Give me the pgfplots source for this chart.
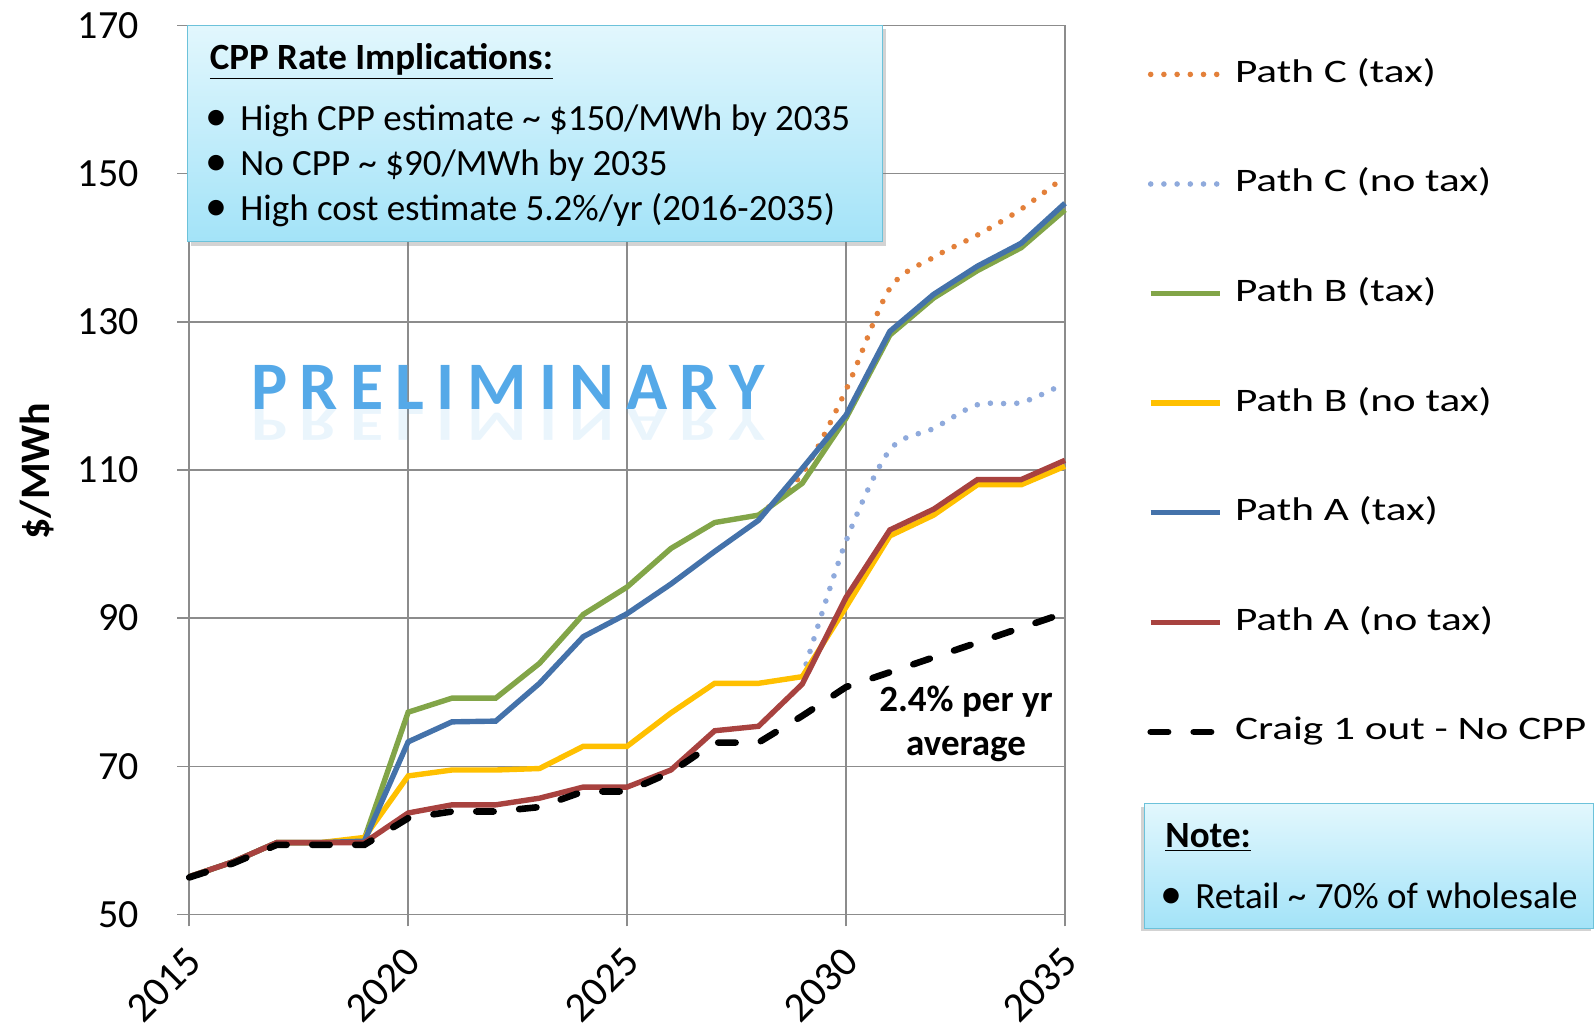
\documentclass[border=0pt]{standalone}
\usepackage{fontspec}
\setmainfont{Carlito}
\newfontfamily\legfont[FakeStretch=1.32]{Carlito}
\usepackage{pgfplots}
\pgfplotsset{compat=1.18}
\usetikzlibrary{shadows}

\definecolor{gridgray}{HTML}{8C8C8C}
\definecolor{cOrange}{HTML}{E3803A}
\definecolor{cLight}{HTML}{8FAADC}
\definecolor{cGreen}{HTML}{82A548}
\definecolor{cYellow}{HTML}{FFC000}
\definecolor{cBlue}{HTML}{4472AA}
\definecolor{cRed}{HTML}{A8423F}
\definecolor{boxtop}{HTML}{E2F7FD}
\definecolor{boxbot}{HTML}{A3E3F8}
\definecolor{boxedge}{HTML}{6CC2DA}
\definecolor{preblue}{HTML}{55A9E8}

\begin{document}
\begin{tikzpicture}
\path[use as bounding box] (-94.6pt,-58.25pt) rectangle (702.9pt,457.25pt);
\begin{axis}[
    scale only axis,
    width=437.9pt, height=444.55pt,
    xmin=2015, xmax=2035, ymin=50, ymax=170,
    xtick={2015,2020,2025,2030,2035},
    ytick={50,70,90,110,130,150,170},
    grid=major,
    major grid style={draw=gridgray, line width=0.75pt},
    axis line style={draw=gridgray, line width=0.75pt},
    tick style={draw=gridgray, line width=0.75pt},
    tick align=outside, major tick length=6pt,
    xtick pos=left, ytick pos=left,
    /pgf/number format/assume math mode=true,
    /pgf/number format/1000 sep={},
    ticklabel style={font=\fontsize{20}{24}\selectfont, inner sep=0pt},
    yticklabel style={anchor=east, xshift=-19pt},
    xticklabel style={font=\fontsize{21}{25}\selectfont, xshift=-2.3pt, yshift=-9pt, rotate=45, anchor=north east},
    ylabel={\$/MWh},
    every axis y label/.style={at={(axis description cs:-0.1742,0.4988)}, rotate=90, anchor=center,
        font=\bfseries\fontsize{21}{24}\selectfont},
    clip=false,
    legend cell align=left,
    legend style={at={(rel axis cs:1,1)}, anchor=north west, xshift=41pt, yshift=-16.3pt,
        draw=none, fill=none, inner sep=0pt, row sep=38.8pt,
        font=\legfont\fontsize{16.4}{19}\selectfont,
        nodes={inner sep=0pt, text height=12pt, text depth=4pt},
        /tikz/every odd column/.append style={column sep=6pt}},
    legend image code/.code={\draw[#1] (0pt,0pt) -- (34.5pt,0pt);},
]
% Path C (tax)
\addplot[cOrange, line width=2.8pt, line cap=round, dash pattern=on 0pt off 6.6pt, smooth] coordinates {
(2028,103.9) (2029,109.5) (2030,120.8) (2031,134.5) (2032,138.7) (2033,141.7) (2034,145.2) (2035,149.6)};
% Path C (no tax)
\addplot[cLight, line width=2.8pt, line cap=round, dash pattern=on 0pt off 6.6pt, smooth] coordinates {
(2029,82.1) (2030,100.4) (2031,112.7) (2032,115.6) (2033,118.8) (2034,119.1) (2035,121.7)};
% Path B (tax)
\addplot[cGreen, line width=2.7pt] coordinates {
(2015,55.1) (2016,57.1) (2017,59.7) (2018,59.7) (2019,60.2) (2020,77.3) (2021,79.2) (2022,79.2)
(2023,83.9) (2024,90.5) (2025,94.2) (2026,99.4) (2027,102.9) (2028,103.9) (2029,108.2) (2030,117.0)
(2031,128.2) (2032,133.2) (2033,136.9) (2034,140.0) (2035,145.1)};
% Path B (no tax)
\addplot[cYellow, line width=2.7pt] coordinates {
(2015,55.1) (2016,57.1) (2017,59.7) (2018,59.7) (2019,60.4) (2020,68.7) (2021,69.5) (2022,69.5)
(2023,69.7) (2024,72.7) (2025,72.7) (2026,77.2) (2027,81.2) (2028,81.2) (2029,82.1) (2030,91.5)
(2031,101.1) (2032,103.9) (2033,108.0) (2034,108.0) (2035,110.5)};
% Path A (tax)
\addplot[cBlue, line width=2.7pt] coordinates {
(2015,55.1) (2016,57.1) (2017,59.7) (2018,59.7) (2019,59.9) (2020,73.3) (2021,76.0) (2022,76.1)
(2023,81.2) (2024,87.5) (2025,90.6) (2026,94.6) (2027,99.0) (2028,103.2) (2029,110.2) (2030,117.4)
(2031,128.7) (2032,133.7) (2033,137.5) (2034,140.6) (2035,146.0)};
% Path A (no tax)
\addplot[cRed, line width=2.7pt] coordinates {
(2015,55.1) (2016,57.1) (2017,59.7) (2018,59.7) (2019,59.7) (2020,63.7) (2021,64.8) (2022,64.8)
(2023,65.7) (2024,67.2) (2025,67.2) (2026,69.5) (2027,74.8) (2028,75.4) (2029,81.1) (2030,92.8)
(2031,101.9) (2032,104.7) (2033,108.7) (2034,108.7) (2035,111.3)};
% Craig 1 out - No CPP
\addplot[black, line width=3.3pt, line cap=round, dash pattern=on 8.7pt off 12.8pt] coordinates {
(2015,55.0) (2016,56.9) (2017,59.4) (2018,59.4) (2019,59.4) (2020,63.0) (2021,63.9) (2022,63.9)
(2023,64.5) (2024,66.6) (2025,66.6) (2026,69.2) (2027,73.2) (2028,73.2) (2029,76.8) (2030,80.7)
(2031,82.7) (2032,84.7) (2033,86.7) (2034,88.7) (2035,90.7)};
\legend{Path C (tax), Path C (no tax), Path B (tax), Path B (no tax), Path A (tax), Path A (no tax), Craig 1 out - No CPP}

% watermark
\node[text=preblue, font=\bfseries\fontsize{34}{40}\selectfont\addfontfeature{LetterSpace=18}]
  at (axis cs:2022.28,121.1) {PRELIMINARY};
\node[text=preblue, opacity=0.12, yscale=-0.7, transform shape, anchor=base,
  font=\bfseries\fontsize{34}{40}\selectfont\addfontfeature{LetterSpace=18}]
  at (axis cs:2022.28,118.1) {PRELIMINARY};

% annotation
\node[align=center, font=\bfseries\fontsize{18.5}{21.9}\selectfont]
  at (axis cs:2032.74,75.7) {2.4\% per yr\\average};

% CPP box
\draw[draw=boxedge, line width=0.5pt, top color=boxtop, bottom color=boxbot,
  drop shadow={shadow xshift=2pt, shadow yshift=-2pt, opacity=0.35}]
  (rel axis cs:-0.0025,1.0004) rectangle (rel axis cs:0.7911,0.7564);
\begin{scope}[font=\fontsize{18.5}{22}\selectfont]
\node[anchor=base west, inner sep=0pt] at (rel axis cs:0.0232,0.9502) {\bfseries\underline{CPP Rate Implications:}};
\node[anchor=base west, inner sep=0pt, font=\fontsize{22}{22}\selectfont] at (rel axis cs:0.0180,0.8816) {\textbullet};
\node[anchor=base west, inner sep=0pt] at (rel axis cs:0.0580,0.8816) {High CPP estimate \textasciitilde{} \$150/MWh by 2035};
\node[anchor=base west, inner sep=0pt, font=\fontsize{22}{22}\selectfont] at (rel axis cs:0.0180,0.8310) {\textbullet};
\node[anchor=base west, inner sep=0pt] at (rel axis cs:0.0580,0.8310) {No CPP \textasciitilde{} \$90/MWh by 2035};
\node[anchor=base west, inner sep=0pt, font=\fontsize{22}{22}\selectfont] at (rel axis cs:0.0180,0.7809) {\textbullet};
\node[anchor=base west, inner sep=0pt] at (rel axis cs:0.0580,0.7809) {High cost estimate 5.2\%/yr (2016-2035)};
\end{scope}

% Note box
\draw[draw=boxedge, line width=0.5pt, top color=boxtop, bottom color=boxbot,
  drop shadow={shadow xshift=-1.5pt, shadow yshift=-1.5pt, opacity=0.35}]
  (rel axis cs:1.0902,0.1243) rectangle (rel axis cs:1.6037,-0.0152);
\begin{scope}[font=\fontsize{18.5}{22}\selectfont]
\node[anchor=base west, inner sep=0pt] at (rel axis cs:1.1142,0.0751) {\bfseries\underline{Note:}};
\node[anchor=base west, inner sep=0pt, font=\fontsize{22}{22}\selectfont] at (rel axis cs:1.1090,0.0065) {\textbullet};
\node[anchor=base west, inner sep=0pt] at (rel axis cs:1.1484,0.0065) {Retail \textasciitilde{} 70\% of wholesale};
\end{scope}
\end{axis}
\end{tikzpicture}
\end{document}
